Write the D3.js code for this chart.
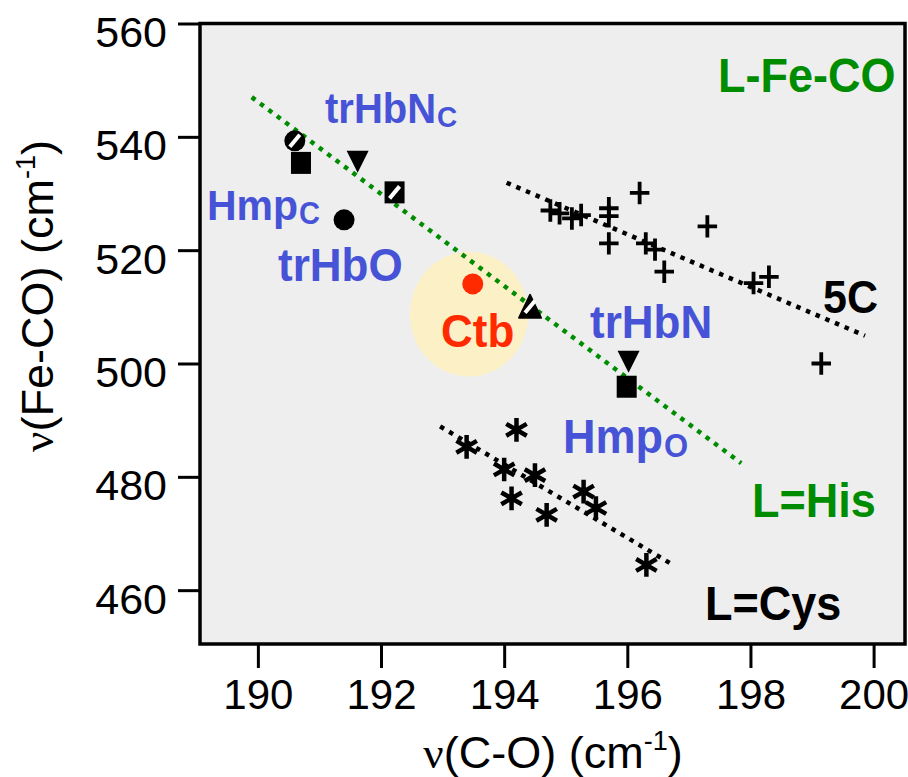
<!DOCTYPE html>
<html>
<head>
<meta charset="utf-8">
<script src="https://cdn.jsdelivr.net/npm/d3@7"></script>
<style>
  body { margin: 0; background: #fff; }
</style>
</head>
<body>
<script>
// axis ticks
var xTicks = [190, 192, 194, 196, 198, 200];
var yTicks = [460, 480, 500, 520, 540, 560];

// 5-coordinate hemes (plus markers)
var fiveCX = [196.2, 197.3, 194.75, 194.9, 195.1, 195.25, 195.7, 195.7, 195.7, 196.3, 196.45, 196.6, 198.05, 198.3, 199.15];
var fiveCY = [530.1, 524.2, 527.0, 526.5, 525.6, 526.2, 527.4, 526.0, 521.2, 521.2, 520.1, 516.2, 514.2, 515.3, 500.0];

// L=Cys proteins (asterisks)
var cysX = [194.2, 193.39, 194.0, 194.12, 194.5, 194.69, 195.29, 195.49, 196.31];
var cysY = [488.3, 485.3, 481.3, 476.2, 480.3, 473.3, 477.4, 474.5, 464.45];

// L=His proteins
var hisNames = ["HmpC-a", "HmpC-b", "trHbNC", "sq-slash", "trHbO", "Ctb", "tri-slash", "trHbN", "HmpO"];
var hisX = [190.6, 190.7, 191.62, 192.22, 191.4, 193.49, 194.42, 196.02, 195.99];
var hisY = [539.3, 535.4, 535.6, 530.2, 525.35, 514.05, 510.0, 500.3, 495.9];

// correlation lines (end points)
var hisLineX = [189.9, 197.85];
var hisLineY = [547.0, 482.4];
var fiveCLineX = [194.04, 199.86];
var fiveCLineY = [531.9, 504.9];
var cysLineX = [192.96, 196.75];
var cysLineY = [488.9, 464.4];

// Ctb highlight
var haloX = 193.43, haloY = 508.7, haloRX = 0.96, haloRY = 11.0;

var font = "'Liberation Sans', Arial, Helvetica, sans-serif";
var blue = "#4753d6", green = "#008c00", red = "#ff2a00";

var svg = d3.select("body").append("svg")
    .attr("width", 908)
    .attr("height", 777);

var x = d3.scaleLinear().domain([189.06, 200.51]).range([200, 905]);
var y = d3.scaleLinear().domain([450.5, 560]).range([644, 23.5]);

// plot box
svg.append("rect")
    .attr("x", x.range()[0])
    .attr("y", y.range()[1])
    .attr("width", x.range()[1] - x.range()[0])
    .attr("height", y.range()[0] - y.range()[1])
    .attr("fill", "#eeeeee")
    .attr("stroke", "black")
    .attr("stroke-width", 3.5);

// axes
var xAxis = svg.append("g")
    .attr("transform", "translate(0," + y.range()[0] + ")")
    .call(d3.axisBottom(x).tickValues(xTicks).tickSize(24).tickPadding(10).tickFormat(d3.format("d")));
var yAxis = svg.append("g")
    .attr("transform", "translate(" + x.range()[0] + ",0)")
    .call(d3.axisLeft(y).tickValues(yTicks).tickSize(22).tickPadding(11).tickFormat(d3.format("d")));

[xAxis, yAxis].forEach(function(g) {
  g.select(".domain").remove();
  g.selectAll(".tick line").attr("stroke", "black").attr("stroke-width", 3);
  g.selectAll(".tick text")
      .attr("font-family", font)
      .attr("fill", "black");
});
yAxis.selectAll(".tick text").attr("font-size", 43).attr("dy", 23);
xAxis.selectAll(".tick text").attr("font-size", 42).attr("dy", "0.74em");

// axis titles
var xt = svg.append("text")
    .attr("x", 553)
    .attr("y", 768)
    .attr("text-anchor", "middle")
    .attr("font-family", font)
    .attr("font-size", 45);
xt.append("tspan").attr("font-family", "'Liberation Serif', 'Times New Roman', serif").text("ν");
xt.append("tspan").text("(C-O) (cm");
xt.append("tspan").attr("font-size", 27).attr("dy", -18).text("-1");
xt.append("tspan").attr("dy", 18).text(")");

var yt = svg.append("text")
    .attr("transform", "translate(53,296) rotate(-90)")
    .attr("text-anchor", "middle")
    .attr("font-family", font)
    .attr("font-size", 45);
yt.append("tspan").attr("font-family", "'Liberation Serif', 'Times New Roman', serif").text("ν");
yt.append("tspan").text("(Fe-CO) (cm");
yt.append("tspan").attr("font-size", 27).attr("dy", -18).text("-1");
yt.append("tspan").attr("dy", 18).text(")");

// Ctb halo
svg.append("ellipse")
    .attr("cx", x(haloX))
    .attr("cy", y(haloY))
    .attr("rx", x(haloX + haloRX) - x(haloX))
    .attr("ry", y(haloY) - y(haloY + haloRY))
    .attr("fill", "#fcf1c6");

// dotted correlation lines
function fitLine(xs, ys, color) {
  svg.append("line")
      .attr("x1", x(xs[0])).attr("y1", y(ys[0]))
      .attr("x2", x(xs[1])).attr("y2", y(ys[1]))
      .attr("stroke", color)
      .attr("stroke-width", 4.5)
      .attr("stroke-dasharray", "4.5,6");
}
fitLine(hisLineX, hisLineY, green);
fitLine(fiveCLineX, fiveCLineY, "black");
fitLine(cysLineX, cysLineY, "black");

// stroke symbols
var plusSym = { draw: function(c, s) { var r = Math.sqrt(s) / 2; c.moveTo(-r, 0); c.lineTo(r, 0); c.moveTo(0, -r * 1.15); c.lineTo(0, r * 1.15); } };
var starSym = { draw: function(c, s) {
  var r = Math.sqrt(s) / 2, t = r / 2, u = r * Math.sqrt(3) / 2;
  c.moveTo(0, r); c.lineTo(0, -r);
  c.moveTo(-u, -t); c.lineTo(u, t);
  c.moveTo(-u, t); c.lineTo(u, -t);
} };

svg.append("g").selectAll("path")
  .data(fiveCX)
  .enter().append("path")
    .attr("transform", function(d, i) { return "translate(" + x(d) + "," + y(fiveCY[i]) + ")"; })
    .attr("d", d3.symbol().type(plusSym).size(380))
    .attr("fill", "none")
    .attr("stroke", "black")
    .attr("stroke-width", 3.8);

svg.append("g").selectAll("path")
  .data(cysX)
  .enter().append("path")
    .attr("transform", function(d, i) { return "translate(" + x(d) + "," + y(cysY[i]) + ")"; })
    .attr("d", d3.symbol().type(starSym).size(560))
    .attr("fill", "none")
    .attr("stroke", "black")
    .attr("stroke-width", 4.5);

// L=His markers
var shapeOf = {
  "HmpC-a": "circleSlash", "HmpC-b": "square", "trHbNC": "triDown", "sq-slash": "squareSlash",
  "trHbO": "circle", "Ctb": "circle", "tri-slash": "triSlash", "trHbN": "triDown", "HmpO": "square"
};
var his = svg.append("g").selectAll("g")
  .data(hisNames)
  .enter().append("g")
    .attr("transform", function(d, i) { return "translate(" + x(hisX[i]) + "," + y(hisY[i]) + ")"; });

his.each(function(d) {
  var g = d3.select(this), shape = shapeOf[d];
  var fill = d === "Ctb" ? red : "black";
  if (shape === "circle" || shape === "circleSlash") {
    g.append("circle").attr("r", 10.5).attr("fill", fill);
  } else if (shape === "square" || shape === "squareSlash") {
    g.append("rect").attr("x", -10).attr("y", -11).attr("width", 20).attr("height", 22).attr("fill", fill);
  } else if (shape === "triDown") {
    g.append("path").attr("d", "M-11,-11L11,-11L0,11Z").attr("fill", fill);
  } else if (shape === "triSlash") {
    g.append("path").attr("d", "M0,-12L11,11L-11,11Z").attr("fill", fill)
        .attr("stroke", "black").attr("stroke-width", 2).attr("stroke-linejoin", "round");
  }
  if (shape.indexOf("Slash") > 0) {
    g.append("line")
        .attr("x1", -5).attr("y1", 6).attr("x2", 5).attr("y2", -6)
        .attr("stroke", "white").attr("stroke-width", 4);
  }
});

// annotations
function label(px, py, main, sub, size, color) {
  var t = svg.append("text")
      .attr("transform", "translate(" + px + "," + py + ") scale(1,1.06)")
      .attr("font-family", font)
      .attr("font-weight", "bold")
      .attr("font-size", size)
      .attr("fill", color)
      .text(main);
  if (sub) {
    t.append("tspan").attr("font-size", Math.round(size * 0.7)).attr("dx", 1).attr("dy", 4).text(sub);
  }
}
label(325, 123, "trHbN", "C", 40, blue);
label(207, 220, "Hmp", "C", 41, blue);
label(278, 281, "trHbO", null, 44, blue);
label(441, 347, "Ctb", null, 44, red);
label(590, 338, "trHbN", null, 44, blue);
label(563, 453, "Hmp", "O", 45, blue);
label(718, 92, "L-Fe-CO", null, 45, green);
label(823, 313, "5C", null, 43, "black");
label(752, 517, "L=His", null, 45, green);
label(705, 620, "L=Cys", null, 45, "black");
</script>
</body>
</html>
